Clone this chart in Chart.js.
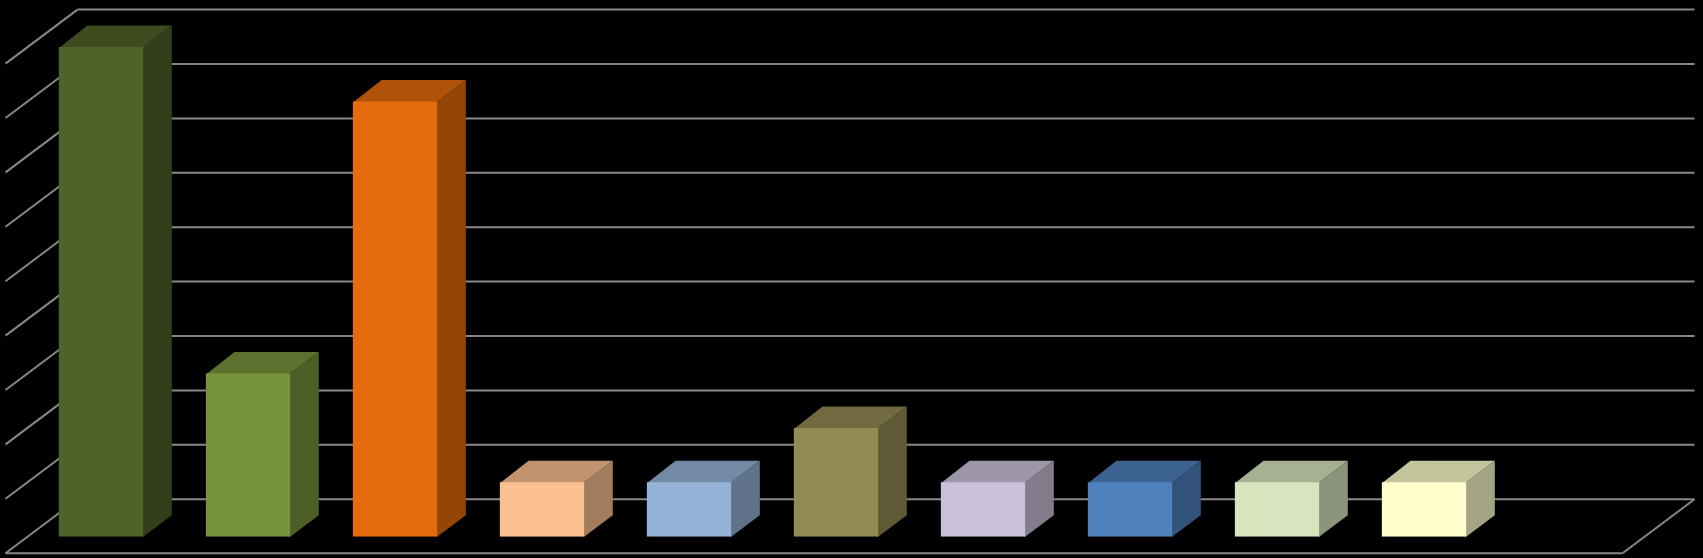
<!DOCTYPE html>
<html>
<head>
<meta charset="utf-8">
<script src="https://cdn.jsdelivr.net/npm/chart.js@4/dist/chart.umd.min.js"></script>
<style>
  html, body { margin: 0; padding: 0; background: #000; }
  canvas { display: block; }
</style>
</head>
<body>
<canvas id="chart" width="1703" height="558"></canvas>
<script>
// data (no labels are shown in the original)
const categories = ['1', '2', '3', '4', '5', '6', '7', '8', '9', '10', '11'];
const values = [9, 3, 8, 1, 1, 2, 1, 1, 1, 1, null];
const yMin = 0;
const yMax = 9;

// front face colours, top and side are shaded from these
const frontColors = ['#4F6228', '#77933C', '#E46C0A', '#FAC090', '#95B3D7', '#948A54', '#CCC1DA', '#4F81BD', '#D7E4BD', '#FFFFCC', '#000000'];

// depth settings (vertical px, horizontal = vertical * 4/3)
const SLANT = 4 / 3;
const FRONT_GAP = 16.5;   // floor front edge -> bar front face
const BAR_DEPTH = 21.5;   // bar front -> bar back
const BACK_GAP = 37.5;    // bar front face -> back wall
const gridColor = '#888888';

function shade(hex, f) {
    const n = parseInt(hex.slice(1), 16);
    const r = Math.round(((n >> 16) & 255) * f);
    const g = Math.round(((n >> 8) & 255) * f);
    const b = Math.round((n & 255) * f);
    return `rgb(${r},${g},${b})`;
}

function line(ctx, x1, y1, x2, y2) {
    ctx.beginPath();
    ctx.moveTo(x1, y1);
    ctx.lineTo(x2, y2);
    ctx.stroke();
}

// walls + the top/side faces of each bar; the front faces are the real bars drawn after this
const walls3d = {
    id: 'walls3d',
    beforeDatasetsDraw(chart) {
        const ctx = chart.ctx;
        const area = chart.chartArea;
        const y = chart.scales.y;
        const bx = BACK_GAP * SLANT;
        const fx = FRONT_GAP * SLANT;
        ctx.save();
        ctx.strokeStyle = gridColor;
        ctx.lineWidth = 2;
        for (let v = yMin; v <= yMax; v++) {
            const py = y.getPixelForValue(v);
            line(ctx, area.left + bx, py - BACK_GAP, area.right + bx, py - BACK_GAP);
            line(ctx, area.left + bx, py - BACK_GAP, area.left - fx, py + FRONT_GAP);
        }
        const p0 = y.getPixelForValue(yMin);
        line(ctx, area.left - fx, p0 + FRONT_GAP, area.right - fx, p0 + FRONT_GAP);
        line(ctx, area.right - fx, p0 + FRONT_GAP, area.right + bx, p0 - BACK_GAP);

        const meta = chart.getDatasetMeta(0);
        const dx = BAR_DEPTH * SLANT;
        const dy = BAR_DEPTH;
        meta.data.forEach((bar, i) => {
            if (values[i] === null || values[i] === undefined) return;
            const p = bar.getProps(['x', 'y', 'base', 'width'], true);
            const l = p.x - p.width / 2;
            const r = p.x + p.width / 2;
            const t = p.y;
            const b = p.base;
            const c = frontColors[i % frontColors.length];
            // faces reach 1px under the front face so no seam shows
            ctx.fillStyle = shade(c, 0.77);
            ctx.beginPath();
            ctx.moveTo(l, t + 1);
            ctx.lineTo(l + dx, t - dy);
            ctx.lineTo(r + dx, t - dy);
            ctx.lineTo(r - 1, t + 1);
            ctx.closePath();
            ctx.fill();
            ctx.fillStyle = shade(c, 0.645);
            ctx.beginPath();
            ctx.moveTo(r - 1, t + 1);
            ctx.lineTo(r, t);
            ctx.lineTo(r + dx, t - dy);
            ctx.lineTo(r + dx, b - dy);
            ctx.lineTo(r, b);
            ctx.lineTo(r - 1, b);
            ctx.closePath();
            ctx.fill();
        });
        ctx.restore();
    }
};

new Chart(document.getElementById('chart'), {
    type: 'bar',
    data: {
        labels: categories,
        datasets: [{
            data: values,
            backgroundColor: frontColors,
            borderWidth: 0,
            barPercentage: 0.5735,
            categoryPercentage: 1
        }]
    },
    options: {
        responsive: false,
        animation: false,
        layout: { padding: { left: 27.5, right: 58.5, top: 47.1, bottom: 21.3 } },
        scales: {
            x: { display: false, grid: { display: false } },
            y: { display: false, min: yMin, max: yMax, grid: { display: false } }
        },
        plugins: {
            legend: { display: false },
            tooltip: { enabled: false },
            title: { display: false }
        }
    },
    plugins: [walls3d]
});
</script>
</body>
</html>
